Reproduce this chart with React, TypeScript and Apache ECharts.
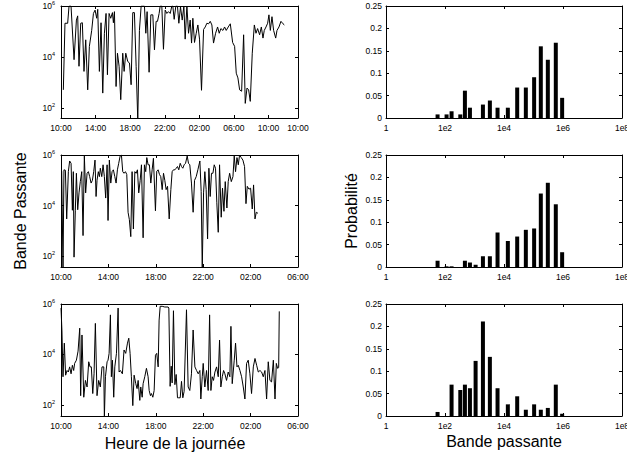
import React, { useEffect, useRef } from "react";
import * as echarts from "echarts";

// ---------- Data (hours since 10:00, bandwidth) ----------
const hours1 = [0.27,0.46,0.77,0.93,1.16,1.51,1.78,1.93,2.08,2.28,
2.47,2.66,2.86,3.09,3.28,3.55,3.75,3.94,4.13,4.25,
4.44,4.63,4.83,5.02,5.21,5.37,5.56,5.75,5.95,6.06,
6.18,6.37,6.53,6.72,6.91,7.14,7.30,7.49,7.72,7.92,
8.11,8.30,8.49,8.69,8.88,9.07,9.27,9.46,9.65,9.81,
9.96,10.19,10.39,10.62,10.81,11.00,11.16,11.35,11.47,11.66,
11.85,12.05,12.24,12.43,12.63,12.82,12.93,13.09,13.28,13.47,
13.63,13.82,14.02,14.21,14.36,14.56,14.75,14.94,15.10,15.25,
15.44,15.64,15.83,16.02,16.25,16.49,16.68,16.87,17.07,17.26,
17.45,17.64,17.88,18.11,18.30,18.49,18.73,18.92,19.11,19.34,
19.58,19.85,20.08,20.27,20.46,20.66,20.89,21.12,21.31,21.51,
21.70,21.89,22.12,22.36,22.55,22.74,22.97,23.17,23.36,23.51,
23.71,23.90,24.05,24.21,24.40,24.59,24.83,24.98,25.21,25.44,
25.68,25.83];
const bw1 = [5.1e2,2.1e5,2.1e5,1e6,1e6,7.8e3,2.8e5,4.1e5,4.3e3,2.1e5,
2.2e5,2.7e3,4.7e4,5.1e2,2.6e4,1.1e5,5.1e5,6.9e5,3.3e5,7.4e5,
2.7e3,2.2e5,3.8e2,8.5e4,5.1e5,2.0e3,5.1e5,3.3e5,5.5e5,2.2e5,
6.0e5,6.9e2,1.4e4,4.3e3,2.1e2,1.4e4,2.7e3,1.4e4,6.6e3,5.8e3,
8.1e2,5.5e5,5.5e5,4.3e3,3.2e1,1.1e5,1e6,1e6,1e6,8.5e4,
6.0e5,2.5e3,4.5e5,4.5e5,1.9e4,2.5e5,2.5e5,5.1e5,1e6,1e6,
2.0e4,6.9e5,5.1e5,6.0e5,5.1e5,1e6,1e6,3.0e5,1e6,1e6,
2.1e5,9.3e5,2.8e5,1e6,5.0e4,1e6,8.5e4,2.8e5,3.5e4,3.3e5,
3.7e4,8.5e4,1.8e5,5.0e4,4.9e2,1.2e5,1.5e5,2.1e5,2.0e5,2.5e5,
1.8e5,3.5e4,8.5e4,1.5e5,8.5e4,1.3e5,1.1e5,1.5e5,1.1e5,1.5e5,
2.0e5,3.7e4,2.6e4,2.3e3,1.5e3,5.1e2,4.5e2,7.4e4,1.5e2,6.0e2,
5.1e2,1.8e2,1.4e4,1.8e5,8.5e4,1.3e5,7.4e4,1.5e5,5.5e4,1.1e5,
1.5e5,2.1e5,4.5e5,1.1e5,3.8e5,1.1e5,5.5e4,1.1e5,1.5e5,2.5e5,
2.0e5,1.8e5];

const hours2 = [0.06,0.17,0.25,0.37,0.48,0.62,0.73,0.85,0.96,1.04,
1.10,1.21,1.30,1.41,1.52,1.63,1.75,1.86,1.97,2.08,
2.20,2.31,2.42,2.54,2.65,2.76,2.87,2.96,3.04,3.15,
3.24,3.32,3.44,3.55,3.66,3.77,3.89,3.97,4.08,4.20,
4.31,4.42,4.54,4.65,4.76,4.87,4.99,5.10,5.21,5.32,
5.44,5.55,5.66,5.77,5.89,6.00,6.11,6.23,6.34,6.45,
6.56,6.68,6.79,6.93,7.04,7.15,7.24,7.35,7.46,7.58,
7.69,7.80,7.97,8.08,8.20,8.31,8.42,8.54,8.65,8.76,
8.87,8.99,9.13,9.27,9.38,9.49,9.61,9.72,9.83,9.94,
10.06,10.17,10.28,10.39,10.51,10.65,10.76,10.87,11.01,11.15,
11.27,11.41,11.55,11.72,11.83,11.92,12.03,12.14,12.25,12.37,
12.48,12.59,12.70,12.82,12.93,13.04,13.15,13.27,13.38,13.52,
13.63,13.75,13.86,14.00,14.11,14.23,14.37,14.51,14.62,14.73,
14.85,14.96,15.07,15.21,15.35,15.49,15.61,15.72,15.86,16.00,
16.14,16.25,16.37,16.48,16.62];
const bw2 = [2.3e5,3.2e1,2.6e5,2.5e5,3.0e3,2.2e5,5.8e5,4.7e5,6.6e3,2.2e5,
9.3e1,6.6e3,1.9e5,6.9e3,3.2e4,8.9e4,2.2e5,6.6e2,9.1e5,3.2e4,
1.9e5,2.2e5,1.4e5,7.8e4,1.0e5,2.2e5,6.3e5,2.3e4,1.0e5,2.2e5,
1.4e5,3.0e5,1.4e5,4.1e5,1.4e5,2.0e4,4.1e5,2.6e3,6.3e5,7.8e4,
2.2e5,2.6e5,1.4e5,7.8e4,2.6e5,4.7e5,9.1e5,1e6,2.2e5,1.9e5,
2.2e5,1.7e5,5.5e3,2.8e3,6.0e2,2.2e5,1.2e3,2.2e5,1.9e5,2.6e5,
3.2e4,1.0e5,4.1e5,5.4e2,4.1e5,2.2e5,7.9e5,4.1e5,4.1e5,7.8e4,
2.6e5,7.4e5,6.3e3,2.3e5,2.6e5,1.7e5,1.4e5,4.3e4,1.9e5,1.0e5,
4.3e4,5.8e4,3.0e3,4.3e4,2.2e5,2.6e5,2.6e5,3.0e5,3.5e5,2.6e5,
4.7e5,3.5e5,3.0e5,4.1e5,4.7e5,9.1e5,4.7e5,4.1e5,7.8e4,5.5e3,
1.0e5,1.4e5,2.6e5,5.8e5,3.6e4,3.2e1,3.2e4,2.2e5,4.3e4,4.9e2,
3.0e5,2.3e4,1.9e5,1.9e5,4.1e5,3.0e5,1.3e4,8.9e2,4.1e5,3.5e3,
4.9e4,6.0e3,8.9e4,8.1e3,8.9e4,1.9e5,8.9e4,1.4e5,9.1e5,2.2e5,
7.9e5,4.1e5,1e6,7.9e5,6.3e5,3.5e5,1.2e4,5.8e4,4.5e4,4.9e4,
7.4e3,6.6e4,3.0e3,5.5e3,5.0e3];

const hours3 = [0.00,0.08,0.17,0.28,0.39,0.51,0.62,0.73,0.85,0.96,
1.07,1.15,1.30,1.44,1.58,1.66,1.77,1.92,2.06,2.20,
2.34,2.45,2.56,2.68,2.79,2.90,3.04,3.18,3.32,3.46,
3.61,3.66,3.75,3.89,3.97,4.06,4.17,4.25,4.34,4.45,
4.54,4.68,4.82,4.90,5.01,5.18,5.32,5.46,5.61,5.72,
5.83,5.94,6.06,6.17,6.31,6.42,6.51,6.65,6.73,6.85,
6.93,7.07,7.21,7.35,7.44,7.55,7.63,7.75,7.86,7.97,
8.08,8.20,8.28,8.37,8.54,8.76,9.04,9.10,9.21,9.30,
9.38,9.49,9.61,9.72,9.83,9.94,10.06,10.17,10.28,10.39,
10.59,10.73,10.87,11.01,11.15,11.30,11.44,11.58,11.72,11.80,
11.92,12.00,12.14,12.28,12.42,12.54,12.65,12.76,12.87,12.99,
13.13,13.27,13.38,13.49,13.61,13.72,13.83,13.97,14.11,14.25,
14.34,14.45,14.62,14.73,14.85,14.96,15.10,15.24,15.38,15.52,
15.66,15.80,15.94,16.08,16.23,16.37,16.51,16.65,16.79,16.93,
17.07,17.21,17.35,17.49,17.63,17.77,17.92,18.06,18.17,18.28,
18.37,18.42];
const bw3 = [6.9e5,8.5e4,1.3e3,2.8e4,1.5e3,2.3e3,2.0e3,3.2e3,1.7e3,3.7e3,
2.3e3,4.4e3,5.9e3,1.35e4,1.1e5,2.3e2,5.9e4,2.0e2,9.3e2,5.1e2,
5.1e3,3.2e3,3.2e3,2.8e2,1.7e3,1.7e5,2.3e2,9.3e2,5.1e2,3.2e3,
3.2e3,3.0e1,1.3e3,5.1e3,5.9e3,1.1e4,3.7e5,1.3e3,5.9e3,2.0e2,
3.2e3,1.1e4,6.9e5,2.0e3,2.3e3,1.7e3,1.5e4,1.1e4,2.8e4,4.4e4,
1.1e4,1.3e3,9.3e1,1.5e3,6.9e2,4.4e2,9.3e2,1.5e2,5.1e2,2.0e2,
6.9e2,1.3e3,2.8e3,1.3e3,3.7e2,2.3e2,2.8e2,2.0e2,3.7e2,9.3e3,
1.1e4,3.2e3,2.3e5,8.1e5,8.1e5,7.6e5,7.6e5,6.9e5,5.4e2,3.4e3,
7.4e2,5.4e5,6.3e2,1.6e3,1.9e2,1.9e2,1.9e2,8.5e2,1.9e2,3.4e2,
5.9e5,5.1e2,3.7e2,1.7e3,9.3e4,3.2e3,2.3e3,1.7e3,2.3e3,1.7e2,
1.3e3,4.4e3,5.1e2,2.3e3,3.7e2,3.7e5,3.7e2,1.3e3,9.3e2,2.0e3,
3.2e3,1.3e3,3.7e4,5.1e2,1.3e3,2.3e3,1.7e3,9.3e2,2.0e3,1.3e3,
1.3e5,6.9e2,5.9e3,2.8e4,3.2e3,3.7e3,2.3e3,1.3e3,5.1e2,1.7e2,
4.4e3,5.9e3,1.7e3,2.8e2,3.2e3,6.9e3,3.7e3,2.0e3,2.3e3,2.0e3,
1.3e3,2.3e3,1.7e2,5.1e3,9.3e2,8.1e2,5.9e3,1.7e2,4.4e3,2.8e3,
3.0e3,5.1e5];

const timeLabels1 = ["10:00","14:00","18:00","22:00","02:00","06:00","10:00","10:00"];
const timeLabels23 = ["10:00","14:00","18:00","22:00","02:00","06:00"];
const bwTickLabels = ["1","1e2","1e4","1e6","1e8"];

// Histogram bins (bandwidth bin centres) and probabilities
const binCenters = [56,113,167,330,473,700,1090,1930,3320,6040,13500,28000,55000,105000,177000,306000,570000,935000];
const prob1 = [0.008,0.008,0.015,0.008,0.061,0.023,0,0.030,0.039,0.023,0.023,0.068,0.068,0.091,0.160,0.130,0.168,0.045];
const prob2 = [0.014,0.0015,0.0015,0,0.014,0.010,0.005,0.024,0.024,0.077,0.058,0.068,0.083,0.086,0.164,0.188,0.140,0.033];
const prob3 = [0.009,0,0.070,0.058,0.070,0.062,0.123,0.211,0.132,0.062,0.026,0.044,0.014,0.026,0.014,0.018,0.070,0.005];

const FONT = "'Liberation Sans', Arial, Helvetica, sans-serif";

function buildOption() {
  const tops = [6, 155, 304];
  const H = 112;
  const lineHours = [hours1, hours2, hours3];
  const lineBw = [bw1, bw2, bw3];
  const maxH = [27.41, 20, 20];
  const yMin = [40, 38, 36];
  const tLabels = [timeLabels1, timeLabels23, timeLabels23];
  const probs = [prob1, prob2, prob3];

  const axisLine = { show: true, onZero: false, lineStyle: { color: "#000", width: 1 } };
  const tick = { show: true, inside: true, length: 3, lineStyle: { color: "#000", width: 1 } };
  const noSplit = { show: false };
  const labelBase = { color: "#000", fontSize: 8.5, fontFamily: FONT };

  const supLabel = (v: number) => {
    const e = Math.log10(v);
    const r = Math.round(e);
    if (Math.abs(e - r) > 1e-6) return "";
    return `{b|10}{s|${r}}`;
  };

  const grids: any[] = [];
  const xAxes: any[] = [];
  const yAxes: any[] = [];
  const series: any[] = [];

  for (let i = 0; i < 3; i++) {
    // ---- time series panel ----
    let gi = grids.length;
    grids.push({ left: 61, top: tops[i], width: 237, height: H, outerBoundsMode: "none" });
    const labels = tLabels[i];
    const xBase = {
      type: "value", gridIndex: gi, min: 0, max: maxH[i], interval: 4,
      axisLine, axisTick: tick, splitLine: noSplit,
    };
    xAxes.push({ ...xBase, position: "bottom",
      axisLabel: { ...labelBase, margin: 5, showMinLabel: true, showMaxLabel: true,
        formatter: (_v: number, idx: number) => labels[idx] ?? "" } });
    xAxes.push({ ...xBase, position: "top", axisLabel: { show: false } });
    const yBase = {
      type: "log", logBase: 100, gridIndex: gi, min: yMin[i], max: 1e6,
      axisLine, axisTick: tick, splitLine: noSplit, minorSplitLine: noSplit,
    };
    yAxes.push({ ...yBase, position: "left",
      axisLabel: { ...labelBase, margin: 6, formatter: supLabel,
        rich: {
          b: { fontSize: 8.5, fontFamily: FONT, color: "#000", lineHeight: 12 },
          s: { fontSize: 5.5, fontFamily: FONT, color: "#000", verticalAlign: "top" },
        } } });
    yAxes.push({ ...yBase, position: "right", axisLabel: { show: false } });
    const hrs = lineHours[i];
    const vals = lineBw[i];
    series.push({
      type: "line", xAxisIndex: 2 * gi, yAxisIndex: 2 * gi,
      data: hrs.map((h, k) => [h, vals[k]]),
      symbol: "none", showSymbol: false, clip: true,
      lineStyle: { color: "#000", width: 1 },
      silent: true,
    });

    // ---- histogram panel ----
    gi = grids.length;
    grids.push({ left: 386, top: tops[i], width: 236, height: H, outerBoundsMode: "none" });
    const hxBase = {
      type: "log", logBase: 100, gridIndex: gi, min: 1, max: 1e8,
      axisLine, axisTick: tick, splitLine: noSplit, minorSplitLine: noSplit,
    };
    xAxes.push({ ...hxBase, position: "bottom",
      axisLabel: { ...labelBase, margin: 5, showMinLabel: true, showMaxLabel: true,
        formatter: (v: number) => {
          const idx = Math.round(Math.log10(v) / 2);
          return bwTickLabels[idx] ?? "";
        } } });
    xAxes.push({ ...hxBase, position: "top", axisLabel: { show: false } });
    const hyBase = {
      type: "value", gridIndex: gi, min: 0, max: 0.25, interval: 0.05,
      axisLine, axisTick: tick, splitLine: noSplit,
    };
    yAxes.push({ ...hyBase, position: "left", axisLabel: { ...labelBase, margin: 4 } });
    yAxes.push({ ...hyBase, position: "right", axisLabel: { show: false } });
    const p = probs[i];
    series.push({
      type: "custom", xAxisIndex: 2 * gi, yAxisIndex: 2 * gi,
      data: binCenters.map((c, k) => [c, p[k]]),
      clip: true, silent: true,
      renderItem: (_params: any, api: any) => {
        const x = api.value(0);
        const y = api.value(1);
        const top = api.coord([x, y]);
        const base = api.coord([x, 0]);
        const w = 4;
        return {
          type: "rect",
          shape: { x: top[0] - w / 2, y: top[1], width: w, height: base[1] - top[1] },
          style: { fill: "#000" },
        };
      },
    });
  }

  const titleStyle = { fill: "#000", fontSize: 16, fontFamily: FONT, align: "center", verticalAlign: "middle" };

  return {
    animation: false,
    backgroundColor: "#fff",
    grid: grids,
    xAxis: xAxes,
    yAxis: yAxes,
    series,
    graphic: [
      { type: "text", x: 20, y: 211, rotation: Math.PI / 2, style: { ...titleStyle, text: "Bande Passante" } },
      { type: "text", x: 351, y: 211, rotation: Math.PI / 2, style: { ...titleStyle, text: "Probabilité" } },
      { type: "text", x: 175, y: 443, style: { ...titleStyle, text: "Heure de la journée" } },
      { type: "text", x: 504, y: 441, style: { ...titleStyle, text: "Bande passante" } },
    ],
  };
}

export default function App() {
  const ref = useRef<HTMLDivElement>(null);
  useEffect(() => {
    if (!ref.current) return;
    const chart = echarts.init(ref.current, null, { renderer: "svg" });
    chart.setOption(buildOption() as any);
    return () => chart.dispose();
  }, []);
  return (
    <div
      ref={ref}
      style={{ position: "absolute", left: 0, top: 0, width: 627, height: 459, background: "#fff" }}
    />
  );
}
